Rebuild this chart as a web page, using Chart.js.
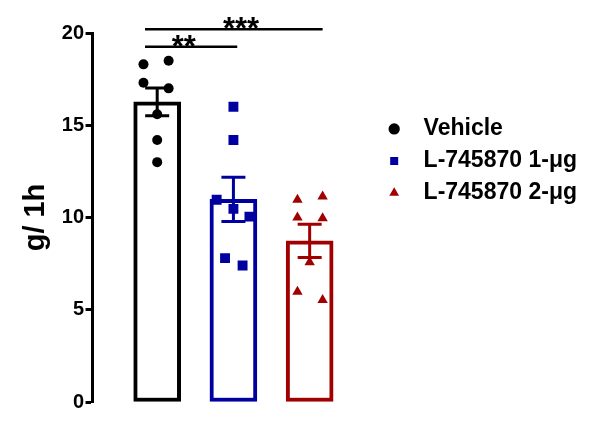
<!DOCTYPE html>
<html>
<head>
<meta charset="utf-8">
<script src="https://cdn.jsdelivr.net/npm/chart.js@4/dist/chart.umd.min.js"></script>
<style>
html,body{margin:0;padding:0;background:#fff;}
#wrap{width:603px;height:422px;position:relative;}
</style>
</head>
<body>
<div id="wrap"><canvas id="c" width="603" height="422"></canvas></div>
<script>
// ---- data ----
const groups = ['Vehicle', 'L-745870 1-\u03bcg', 'L-745870 2-\u03bcg'];
const groupX = [0, 1, 2];
const means = [16.27, 10.98, 8.73];
const sems = [0.75, 1.2, 0.9];
const vehicleValues = [18.3, 18.5, 17.3, 17.0, 15.6, 14.2, 13.0];
const vehicleJitter = [-0.18, 0.15, -0.18, 0.15, 0, 0, 0];
const dose1Values = [16.0, 14.2, 10.96, 10.47, 10.05, 7.8, 7.4];
const dose1Jitter = [0, 0, -0.22, 0, 0.21, -0.11, 0.12];
const dose2Values = [10.96, 11.14, 10.0, 9.96, 7.57, 5.98, 5.53];
const dose2Jitter = [-0.16, 0.17, -0.16, 0.17, 0, -0.16, 0.17];
const yTicks = [0, 5, 10, 15, 20];
const comparisons = [
  {from: 0, to: 1, label: '**', level: 19.25, fromOff: -0.16, toOff: 0.05, starX: 0.35},
  {from: 0, to: 2, label: '***', level: 20.2, fromOff: -0.16, toOff: 0.17, starX: 1.10}
];
const colors = ['#000000', '#0000A0', '#A00000'];
const pointShapes = ['circle', 'rect', 'triangle'];

const FONT = "'Liberation Sans', Arial, sans-serif";

function pts(vals, jit, gx) {
  return vals.map((v, i) => ({x: gx + jit[i], y: v}));
}
const allPoints = [
  pts(vehicleValues, vehicleJitter, groupX[0]),
  pts(dose1Values, dose1Jitter, groupX[1]),
  pts(dose2Values, dose2Jitter, groupX[2])
];
const radii = [5, 7, 6];

const datasets = groups.map((g, i) => ({
  type: 'scatter',
  label: g,
  data: allPoints[i],
  pointStyle: pointShapes[i],
  pointRadius: radii[i],
  pointHoverRadius: radii[i],
  backgroundColor: colors[i],
  borderColor: colors[i],
  borderWidth: 0,
  showLine: false
}));
datasets.push({
  type: 'bar',
  label: 'mean',
  data: groupX.map((x, i) => ({x: x, y: means[i]})),
  backgroundColor: '#ffffff',
  borderColor: colors,
  borderWidth: 4,
  borderSkipped: false,
  barThickness: 47
});

const errorBars = {
  id: 'errorBars',
  afterDatasetsDraw(chart) {
    const {ctx, scales: {x, y}} = chart;
    ctx.save();
    ctx.lineWidth = 3;
    groupX.forEach((gx, i) => {
      const cx = x.getPixelForValue(gx);
      const top = y.getPixelForValue(means[i] + sems[i]);
      const bot = y.getPixelForValue(means[i] - sems[i]);
      ctx.strokeStyle = colors[i];
      ctx.beginPath();
      ctx.moveTo(cx, top); ctx.lineTo(cx, bot);
      ctx.moveTo(cx - 12, top); ctx.lineTo(cx + 12, top);
      ctx.moveTo(cx - 12, bot); ctx.lineTo(cx + 12, bot);
      ctx.stroke();
    });
    ctx.restore();
  }
};

const sigLines = {
  id: 'sigLines',
  afterDraw(chart) {
    const {ctx, scales: {x, y}} = chart;
    ctx.save();
    ctx.strokeStyle = '#000';
    ctx.fillStyle = '#000';
    ctx.lineWidth = 2.5;
    comparisons.forEach(c => {
      const yy = y.getPixelForValue(c.level);
      const x0 = x.getPixelForValue(groupX[c.from] + c.fromOff);
      const x1 = x.getPixelForValue(groupX[c.to] + c.toOff);
      ctx.beginPath();
      ctx.moveTo(x0, yy); ctx.lineTo(x1, yy);
      ctx.stroke();
      ctx.font = 'bold 31px ' + FONT;
      ctx.textAlign = 'center';
      ctx.textBaseline = 'alphabetic';
      ctx.fillText(c.label, x.getPixelForValue(c.starX), yy + 10);
    });
    ctx.restore();
  }
};

new Chart(document.getElementById('c'), {
  type: 'bar',
  data: {datasets: datasets},
  plugins: [errorBars, sigLines],
  options: {
    responsive: false,
    animation: false,
    events: [],
    layout: {padding: {top: 33, bottom: 20, left: 19, right: 16}},
    plugins: {
      tooltip: {enabled: false},
      legend: {
        position: 'right',
        align: 'start',
        maxWidth: 300,
        title: {display: true, text: '', padding: {top: 61, bottom: 0}},
        labels: {
          usePointStyle: true,
          boxWidth: 23,
          boxHeight: 8,
          padding: 9,
          color: '#000',
          font: {size: 23, weight: 'bold', family: FONT},
          filter: item => item.datasetIndex < 3,
          generateLabels(chart) {
            const items = Chart.defaults.plugins.legend.labels.generateLabels(chart);
            return items.map(it => Object.assign(it, {text: ' ' + it.text}));
          }
        }
      }
    },
    scales: {
      x: {
        type: 'linear',
        display: false,
        offset: false,
        min: -0.848,
        max: 2.84
      },
      y: {
        min: 0,
        max: 20,
        afterBuildTicks(scale) { scale.ticks = yTicks.map(v => ({value: v})); },
        grid: {display: true, drawOnChartArea: false, drawTicks: true, tickLength: 7, tickWidth: 3, tickColor: '#000'},
        border: {display: true, color: '#000', width: 3},
        ticks: {color: '#000', padding: 1.5, font: {size: 20, weight: 'bold', family: FONT}},
        title: {display: true, text: 'g/ 1h', color: '#000', padding: {top: 0, bottom: 6.5}, font: {size: 29, weight: 'bold', family: FONT}}
      }
    }
  }
});
</script>
</body>
</html>
